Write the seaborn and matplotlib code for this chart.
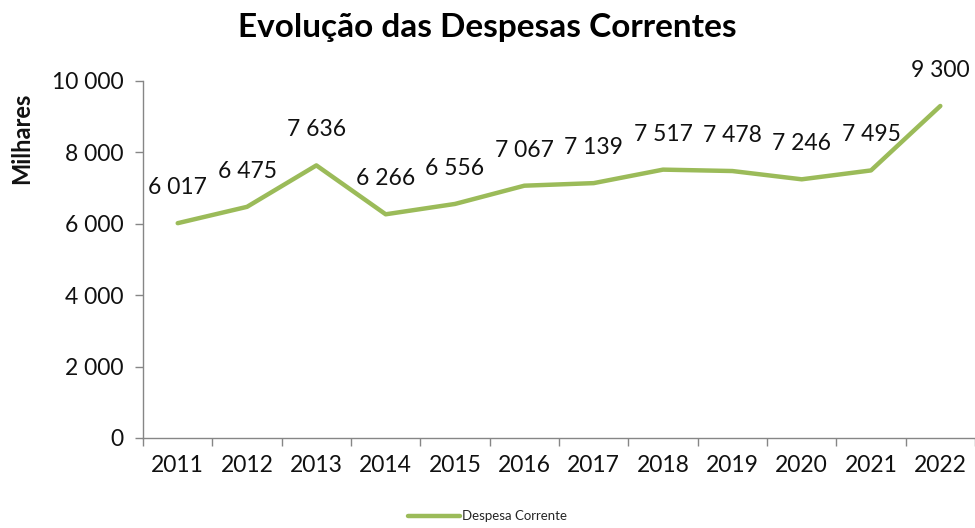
import matplotlib
matplotlib.use("Agg")
import matplotlib.pyplot as plt
import seaborn as sns
import pandas as pd
from matplotlib.ticker import FixedLocator, FuncFormatter

years = ["2011", "2012", "2013", "2014", "2015", "2016", "2017", "2018", "2019", "2020", "2021", "2022"]
despesa = [6017, 6475, 7636, 6266, 6556, 7067, 7139, 7517, 7478, 7246, 7495, 9300]

df = pd.DataFrame({"Ano": years, "Despesa Corrente": despesa})

sns.set_theme(style="white")
plt.rcParams["font.family"] = ["Lato", "DejaVu Sans"]

fig = plt.figure(figsize=(9.75, 5.28), dpi=100)
ax = fig.add_axes([0.1467, 0.1705, 0.8533, 0.6761])

green = "#9BBB59"
sns.lineplot(data=df, x="Ano", y="Despesa Corrente", ax=ax, color=green,
             linewidth=3.2, label="Despesa Corrente", sort=False)

def fmt(v):
    return f"{int(round(v)):,}".replace(",", " ")

for i, v in enumerate(despesa):
    ax.annotate(fmt(v), (i, v), xytext=(0, 18), textcoords="offset points",
                ha="center", va="bottom", fontsize=16.5, color="#111111")

ax.set_xlim(-0.5, 11.5)
ax.set_ylim(0, 10000)
ax.set_yticks([0, 2000, 4000, 6000, 8000, 10000])
ax.yaxis.set_major_formatter(FuncFormatter(lambda v, p: fmt(v)))
ax.set_xticks(range(len(years)))
ax.set_xticklabels(years)
ax.xaxis.set_minor_locator(FixedLocator([i - 0.5 for i in range(len(years) + 1)]))

spine_c = "#868686"
for s in ["top", "right"]:
    ax.spines[s].set_visible(False)
for s in ["left", "bottom"]:
    ax.spines[s].set_color(spine_c)
    ax.spines[s].set_linewidth(1.0)

ax.tick_params(axis="y", which="major", direction="out", length=6, width=1,
               color=spine_c, labelsize=16.5, labelcolor="#111111", pad=8, left=True)
ax.tick_params(axis="x", which="major", length=0, labelsize=16.5, labelcolor="#111111", pad=12)
ax.tick_params(axis="x", which="minor", direction="out", length=6, width=1,
               color=spine_c, bottom=True)

ax.set_xlabel("")
ax.set_ylabel("Milhares", fontsize=17, fontweight="bold", color="#111111")
ax.yaxis.set_label_coords(-0.132, 0.84)

fig.suptitle("Evolução das Despesas Correntes", fontsize=24, fontweight="bold",
             y=0.975, x=0.5, color="#000000")

leg = ax.legend(loc="lower center", frameon=False,
                fontsize=9.5, handlelength=4.0, handletextpad=0.15)
leg.set_bbox_to_anchor((0.5, -0.012), transform=fig.transFigure)

fig.savefig("out.png", dpi=100)
